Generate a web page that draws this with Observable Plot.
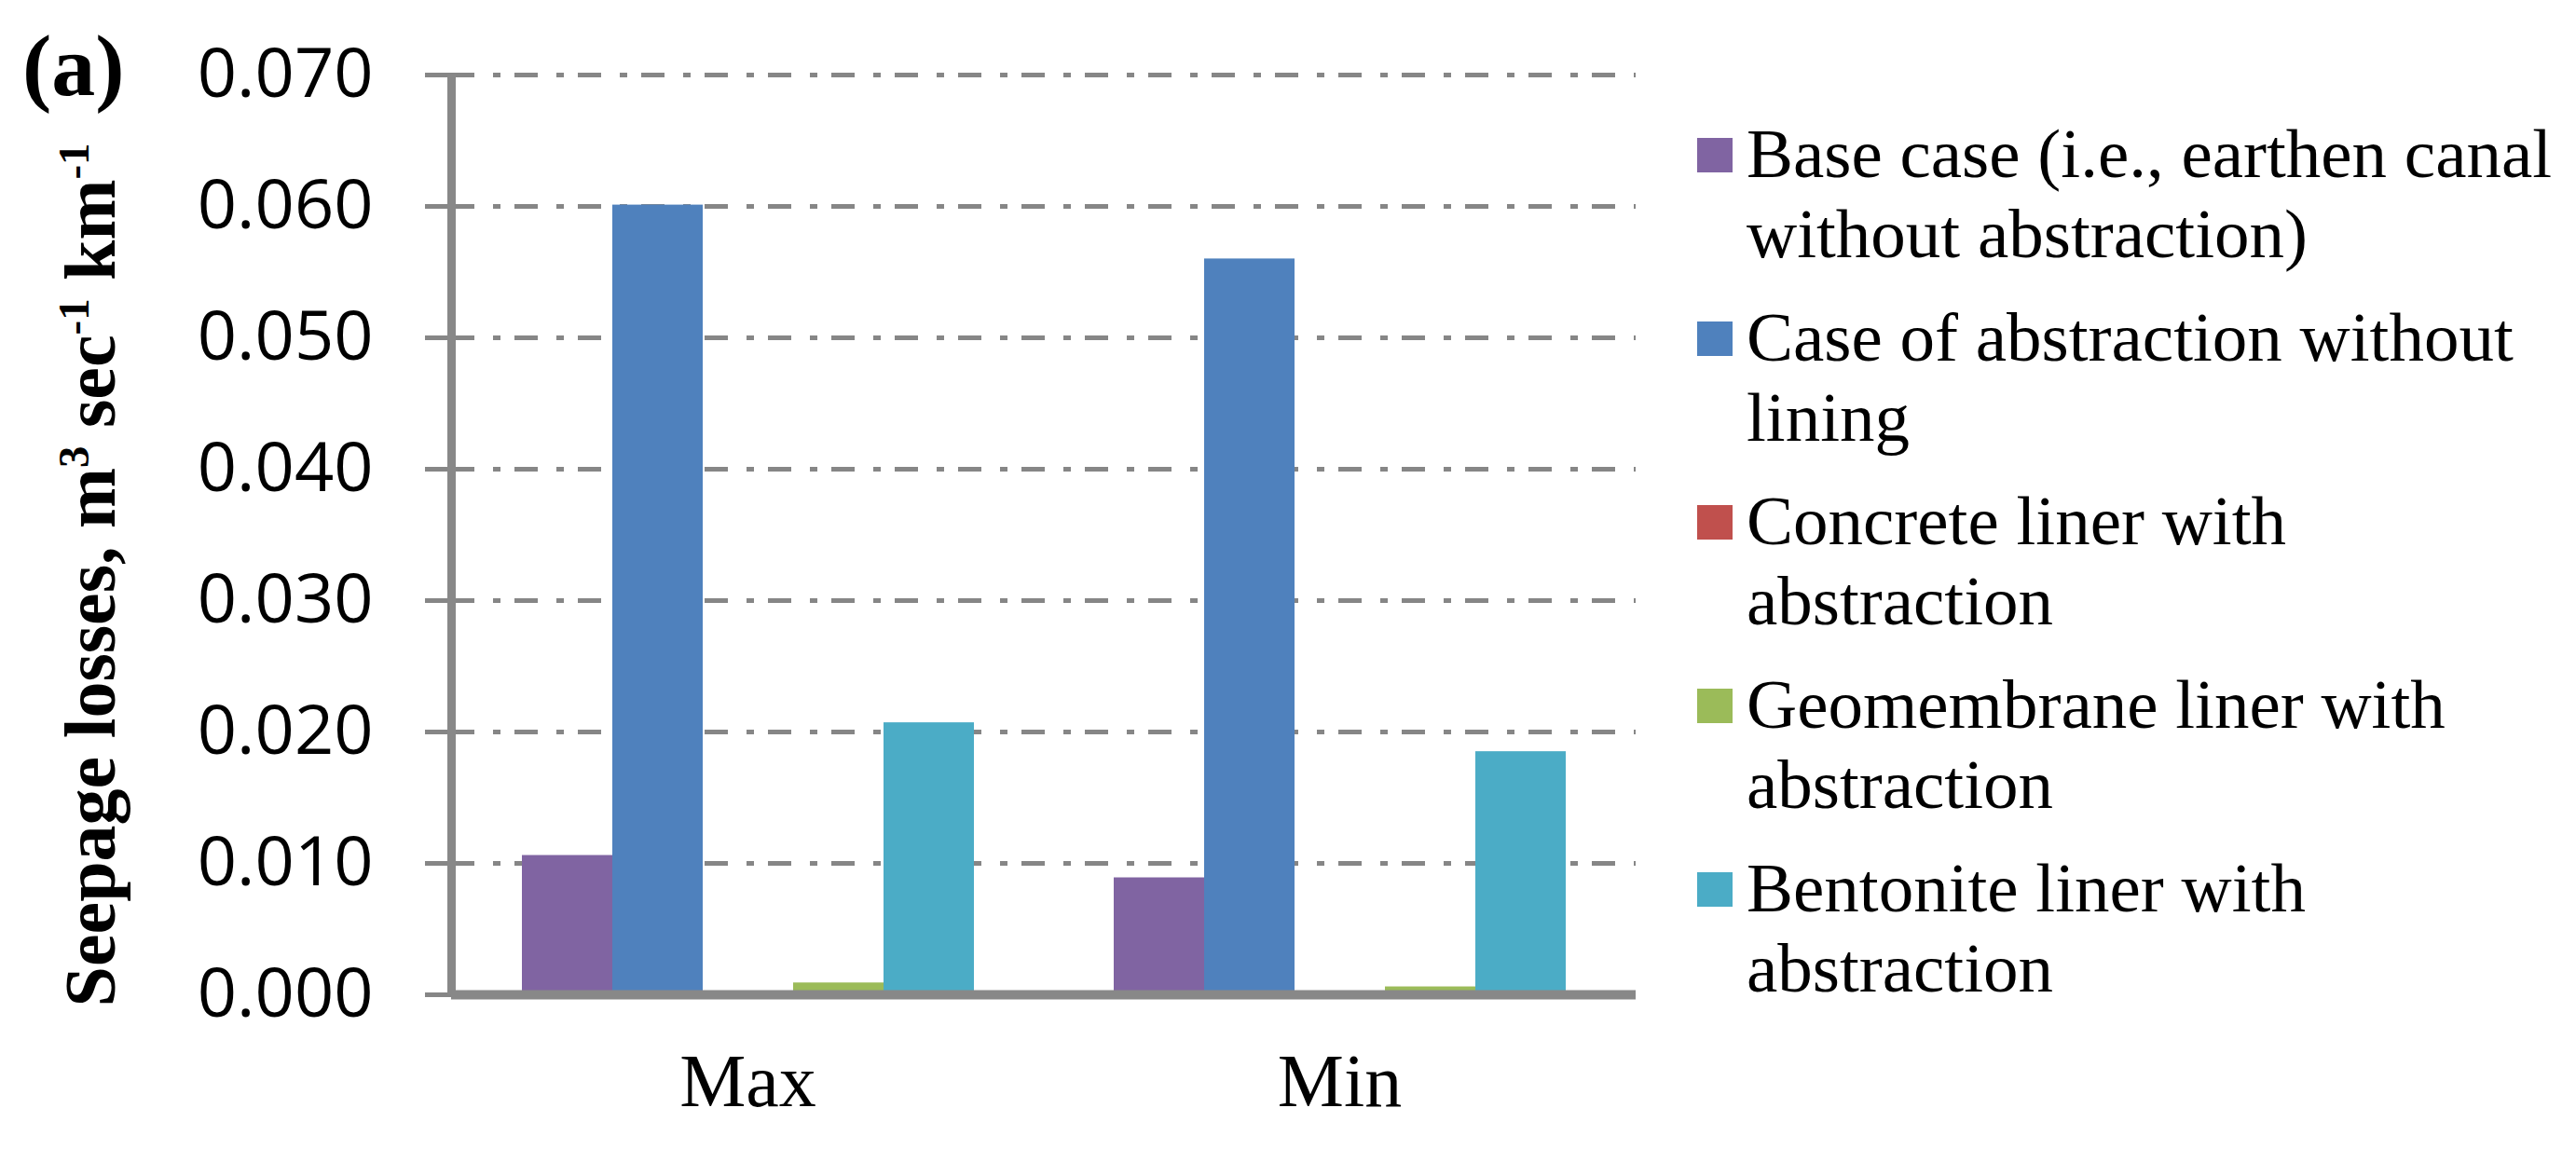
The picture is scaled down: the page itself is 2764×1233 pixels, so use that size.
<!DOCTYPE html>
<html>
<head>
<meta charset="utf-8">
<script src="https://cdn.jsdelivr.net/npm/d3@7"></script>
<script src="https://cdn.jsdelivr.net/npm/@observablehq/plot@0.6"></script>
<style>
  body { margin: 0; background: #fff; }
  #wrap { position: relative; width: 2764px; height: 1233px; overflow: hidden; background: #fff; }
  #wrap svg { position: absolute; left: 0; top: 0; }
  .serif { font-family: "Liberation Serif", "Times New Roman", serif; color: #000; }
  #panel { position: absolute; left: 24px; top: 22px; font-size: 94px; line-height: 96px; font-weight: bold; }
  #ylabel { position: absolute; width: 1000px; height: 78px; left: -403px; top: 578px;
            font-size: 78px; line-height: 78px; font-weight: bold; text-align: center;
            transform: rotate(-90deg); transform-origin: 50% 50%; white-space: nowrap; }
  #ylabel sup { font-size: 0.6em; vertical-align: 0.6em; line-height: 0; }
  #legend { position: absolute; left: 1821px; top: 122px; }
  .entry { display: flex; align-items: flex-start; height: 172px; margin-bottom: 25px; }
  .sw { width: 38px; height: 37px; margin-top: 26px; margin-right: 15px; flex: none; }
  .lt { width: 888px; font-size: 75px; line-height: 86px; }
</style>
</head>
<body>
<div id="wrap"></div>
<script>
// ---- data ----
const categories = ["Max", "Min"];
const series = [
  "Base case (i.e., earthen canal without abstraction)",
  "Case of abstraction without lining",
  "Concrete liner with abstraction",
  "Geomembrane liner with abstraction",
  "Bentonite liner with abstraction"
];
const colors = ["#8064A2", "#4F81BD", "#C0504D", "#9BBB59", "#4BACC6"];
const maxValues = [0.0106, 0.0601, 0.0, 0.0009, 0.0207];
const minValues = [0.0089, 0.0560, 0.0, 0.0006, 0.0185];
const yTicks = [0, 0.01, 0.02, 0.03, 0.04, 0.05, 0.06, 0.07];
const panelLabel = "(a)";
const yLabelHTML = "Seepage losses, m<sup>3</sup> sec<sup>-1</sup> km<sup>-1</sup>";

const rows = [];
categories.forEach((cat, ci) => {
  const vals = ci === 0 ? maxValues : minValues;
  series.forEach((s, si) => rows.push({cat, series: s, value: vals[si]}));
});

// ---- layout ----
const W = 2764, H = 1233;
const margins = {marginTop: 80, marginRight: 1009, marginBottom: 166, marginLeft: 484};
const yScale = {domain: [0, 0.07], axis: null};

// back layer: dash-dot gridlines
const gridPlot = Plot.plot({
  width: W, height: H, ...margins,
  x: {domain: [0, 1], axis: null},
  y: yScale,
  marks: [
    Plot.ruleY(yTicks.filter(d => d > 0), {stroke: "#868686", strokeWidth: 5, strokeDasharray: "25,20,8,15"})
  ]
});

// middle layer: grouped bars
const barPlot = Plot.plot({
  width: W, height: H, ...margins,
  style: {background: "transparent"},
  fx: {domain: categories, paddingInner: 0.234, paddingOuter: 0.117, axis: null},
  x: {domain: series, padding: 0, axis: null},
  y: yScale,
  color: {domain: series, range: colors},
  marks: [
    Plot.barY(rows, {fx: "cat", x: "series", y: "value", fill: "series"}),
    Plot.axisFx({anchor: "bottom", tickSize: 0, tickPadding: 63, fontSize: 80,
                 fontFamily: "Liberation Serif", fill: "#000", label: null})
  ]
});

// front layer: axis lines, ticks and tick labels
const axisPlot = Plot.plot({
  width: W, height: H, ...margins,
  style: {background: "transparent"},
  x: {domain: [0, 1], axis: null},
  y: yScale,
  marks: [
    Plot.axisY(yTicks, {tickSize: 28, tickPadding: 56, tickFormat: d3.format(".3f"),
                        fontSize: 74, fontFamily: "Open Sans", stroke: "#868686", strokeWidth: 5,
                        fill: "#000", label: null}),
    Plot.ruleX([0], {stroke: "#888888", strokeWidth: 9}),
    Plot.ruleY([0], {stroke: "#888888", strokeWidth: 10})
  ]
});

const wrap = document.getElementById("wrap");
wrap.append(gridPlot, barPlot, axisPlot);

// text overlays
const panel = document.createElement("div");
panel.id = "panel"; panel.className = "serif"; panel.textContent = panelLabel;
wrap.append(panel);

const yl = document.createElement("div");
yl.id = "ylabel"; yl.className = "serif"; yl.innerHTML = yLabelHTML;
wrap.append(yl);

const legend = document.createElement("div");
legend.id = "legend"; legend.className = "serif";
series.forEach((s, i) => {
  const e = document.createElement("div"); e.className = "entry";
  const sw = document.createElement("div"); sw.className = "sw"; sw.style.background = colors[i];
  const t = document.createElement("div"); t.className = "lt"; t.textContent = s;
  e.append(sw, t); legend.append(e);
});
wrap.append(legend);
</script>
</body>
</html>
